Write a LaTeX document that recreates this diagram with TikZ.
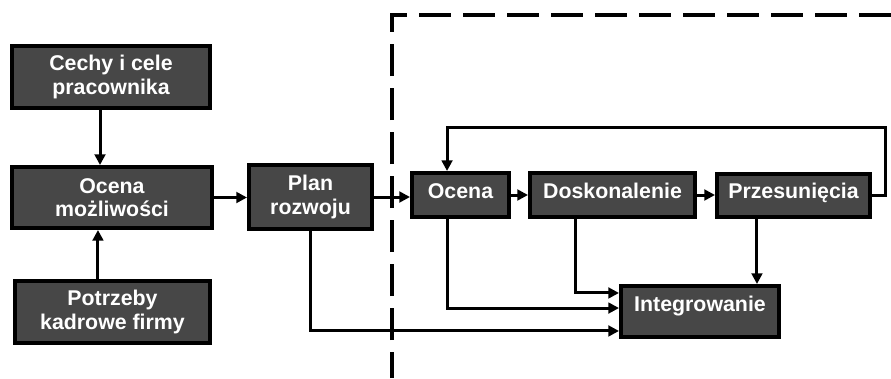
\documentclass[tikz,border=0pt]{standalone}
\usepackage{fontspec}
\setmainfont{Liberation Sans}
\usetikzlibrary{arrows.meta}
\definecolor{boxgray}{HTML}{474747}

\begin{document}
\begin{tikzpicture}[x=0.75pt,y=-0.75pt,
  box/.style={draw=black,line width=3pt,fill=boxgray,text=white,
    font=\bfseries\fontsize{16}{17.5}\selectfont,align=center,inner sep=0pt},
  link/.style={line width=2.25pt,-{Triangle[length=8pt,width=8pt]}},
  frame/.style={line width=3pt,dash pattern=on 24pt off 9pt,dash phase=4.5pt}]
  \useasboundingbox (0,0) rectangle (891,378);
  % dashed frame
  \coordinate (framebot) at (392,378);
  \coordinate (frametr) at (891,15);
  \draw[frame] (framebot) |- (frametr);
  % boxes
  \node[box,minimum width=148.5pt,minimum height=46.5pt] (cechy) at (111,77) {Cechy i cele\\pracownika};
  \node[box,minimum width=150pt,minimum height=45.75pt] (ocenam) at (112,197.5) {Ocena\\możliwości};
  \node[box,minimum width=146.25pt,minimum height=46.5pt] (potrz) at (112.5,312) {Potrzeby\\kadrowe firmy};
  \node[box,minimum width=92.25pt,minimum height=48pt] (plan) at (310.5,197) {Plan\\rozwoju};
  \node[box,minimum width=72.75pt,minimum height=33pt,text height=11.5pt,text depth=6pt] (ocena) at (460.5,195) {Ocena};
  \node[box,minimum width=123.75pt,minimum height=33pt,text height=11.5pt,text depth=6pt] (dosk) at (612.5,195) {Doskonalenie};
  \node[box,minimum width=114.75pt,minimum height=32.25pt,text height=11.5pt,text depth=6pt] (przes) at (793.5,195) {Przesunięcia};
  \node[box,minimum width=118.5pt,minimum height=38.25pt,text height=11.5pt,text depth=12pt] (integ) at (700,311.5) {Integrowanie};
  % connectors
  \draw[link] ([xshift=-8.25pt]cechy.south) -- ([xshift=-8.25pt]cechy.south |- ocenam.north);
  \draw[link] ([xshift=-10.9pt]potrz.north) -- ([xshift=-10.9pt]potrz.north |- ocenam.south);
  \draw[link] (ocenam.east) -- (ocenam.east -| plan.west);
  \draw[link] (plan.east) -- (plan.east -| ocena.west);
  \draw[link] (ocena.east) -- (dosk.west);
  \draw[link] (dosk.east) -- (przes.west);
  \coordinate (loopne) at (885,127);
  \draw[link] (przes.east) -| (loopne) -| ([xshift=-10.1pt]ocena.north);
  \draw[link] (plan.south) |- ([yshift=-14.6pt]integ.west);
  \draw[link] ([xshift=-10.1pt]ocena.south) |- ([yshift=2.6pt]integ.west);
  \draw[link] ([xshift=-28.1pt]dosk.south) |- ([yshift=13.9pt]integ.west);
  \draw[link] ([xshift=-27.4pt]przes.south) -- ([xshift=-27.4pt]przes.south |- integ.north);
\end{tikzpicture}
\end{document}
